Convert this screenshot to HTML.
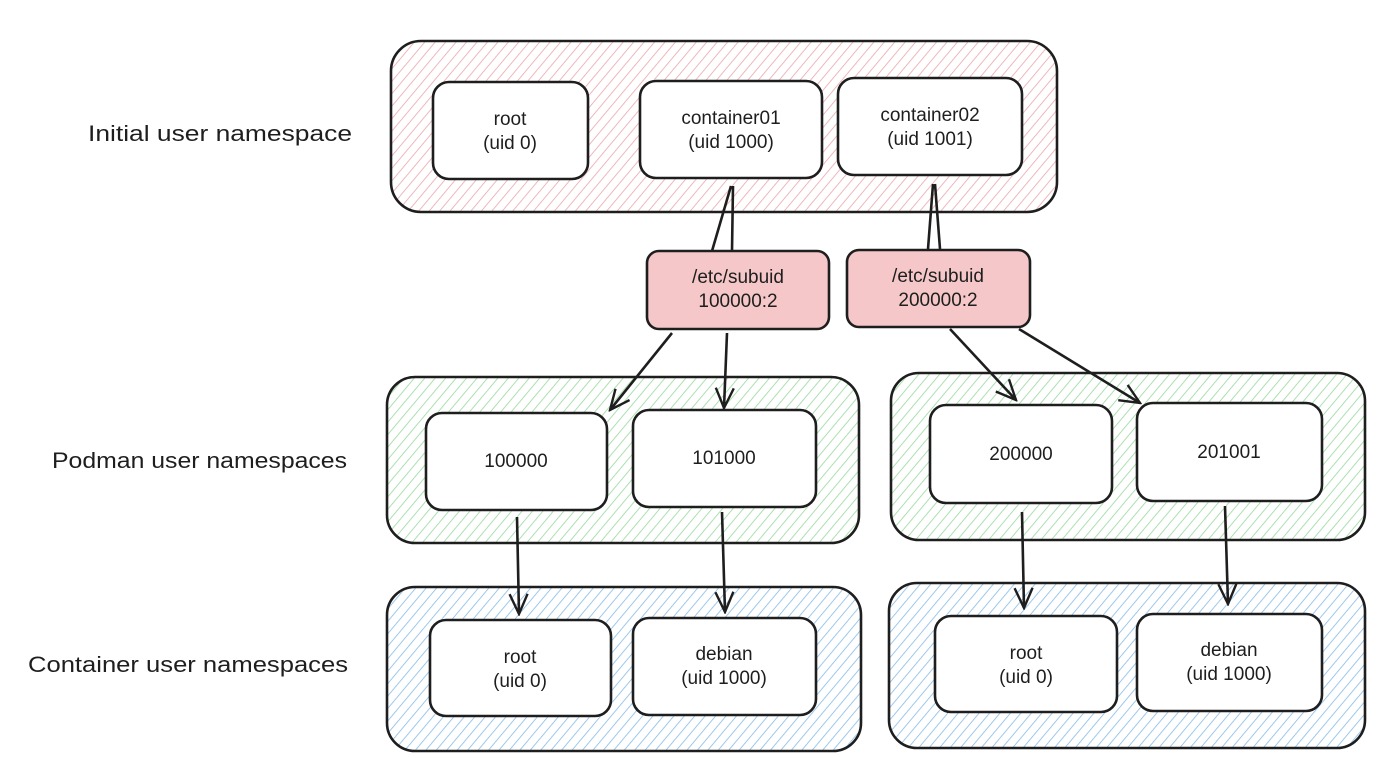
<!DOCTYPE html>
<html><head><meta charset="utf-8"><style>
html,body{margin:0;padding:0;background:#fff;}
svg{display:block}
text{font-family:"Liberation Sans",sans-serif;fill:#1e1e1e}
</style></head><body>
<svg width="1392" height="758" viewBox="0 0 1392 758" xmlns="http://www.w3.org/2000/svg">
<defs>
<pattern id="hr" width="8" height="8" patternUnits="userSpaceOnUse" patternTransform="rotate(40)"><rect width="8" height="8" fill="#fff"/><line x1="0" y1="0" x2="0" y2="8" stroke="#eba6ab" stroke-width="1.6"/></pattern>
<pattern id="hg" width="8" height="8" patternUnits="userSpaceOnUse" patternTransform="rotate(40)"><rect width="8" height="8" fill="#fff"/><line x1="0" y1="0" x2="0" y2="8" stroke="#98d99d" stroke-width="1.6"/></pattern>
<pattern id="hb" width="8" height="8" patternUnits="userSpaceOnUse" patternTransform="rotate(40)"><rect width="8" height="8" fill="#fff"/><line x1="0" y1="0" x2="0" y2="8" stroke="#86bbe8" stroke-width="1.6"/></pattern>
<marker id="ar" viewBox="0 0 24 24" refX="22" refY="12" markerWidth="24" markerHeight="24" markerUnits="userSpaceOnUse" orient="auto"><path d="M2 3 L22 12 L2 21" fill="none" stroke="#1e1e1e" stroke-width="2.4"/></marker>
</defs>
<g stroke="#1e1e1e" stroke-width="2.6">
<rect x="391" y="41" width="666" height="171" rx="30" fill="url(#hr)"/>
<rect x="387" y="377" width="472" height="166" rx="28" fill="url(#hg)"/>
<rect x="891" y="373" width="474" height="167" rx="28" fill="url(#hg)"/>
<rect x="387" y="587" width="474" height="164" rx="28" fill="url(#hb)"/>
<rect x="889" y="583" width="476" height="165" rx="28" fill="url(#hb)"/>
<g fill="#fff">
<rect x="433" y="82" width="155" height="97" rx="16"/>
<rect x="640" y="81" width="182" height="97" rx="16"/>
<rect x="838" y="78" width="184" height="97" rx="16"/>
<rect x="426" y="413" width="181" height="97" rx="16"/>
<rect x="633" y="410" width="183" height="97" rx="16"/>
<rect x="930" y="405" width="182" height="98" rx="16"/>
<rect x="1137" y="403" width="185" height="98" rx="16"/>
<rect x="430" y="620" width="181" height="96" rx="16"/>
<rect x="633" y="618" width="183" height="97" rx="16"/>
<rect x="935" y="616" width="182" height="96" rx="16"/>
<rect x="1137" y="614" width="185" height="97" rx="16"/>
</g>
<rect x="647" y="251" width="182" height="78" rx="12" fill="#f5c7c8"/>
<rect x="847" y="250" width="183" height="77" rx="12" fill="#f5c7c8"/>
<g fill="none">
<path d="M731 186 L712 251 M733 186 L732 251"/>
<path d="M933 184 L928 249 M935 184 L940 249"/>
<path d="M672 333 L610 410" marker-end="url(#ar)"/>
<path d="M727 333 L724 408" marker-end="url(#ar)"/>
<path d="M950 329 L1016 400" marker-end="url(#ar)"/>
<path d="M1019 329 L1140 403" marker-end="url(#ar)"/>
<path d="M517 517 L519 614" marker-end="url(#ar)"/>
<path d="M722 512 L725 612" marker-end="url(#ar)"/>
<path d="M1022 512 L1024 608" marker-end="url(#ar)"/>
<path d="M1225 506 L1228 604" marker-end="url(#ar)"/>
</g>
</g>
<g font-size="22">
<text x="88" y="141" textLength="264" lengthAdjust="spacingAndGlyphs">Initial user namespace</text>
<text x="52" y="468" textLength="295" lengthAdjust="spacingAndGlyphs">Podman user namespaces</text>
<text x="28" y="672" textLength="320" lengthAdjust="spacingAndGlyphs">Container user namespaces</text>
</g>
<g font-size="19" text-anchor="middle">
<text x="510" y="125">root</text><text x="510" y="149">(uid 0)</text>
<text x="731" y="124">container01</text><text x="731" y="148">(uid 1000)</text>
<text x="930" y="121">container02</text><text x="930" y="145">(uid 1001)</text>
<text x="738" y="283">/etc/subuid</text><text x="738" y="307">100000:2</text>
<text x="938" y="282">/etc/subuid</text><text x="938" y="306">200000:2</text>
<text x="516" y="467">100000</text>
<text x="724" y="464">101000</text>
<text x="1021" y="460">200000</text>
<text x="1229" y="458">201001</text>
<text x="520" y="663">root</text><text x="520" y="687">(uid 0)</text>
<text x="724" y="660">debian</text><text x="724" y="684">(uid 1000)</text>
<text x="1026" y="659">root</text><text x="1026" y="683">(uid 0)</text>
<text x="1229" y="656">debian</text><text x="1229" y="680">(uid 1000)</text>
</g>
</svg>
</body></html>
